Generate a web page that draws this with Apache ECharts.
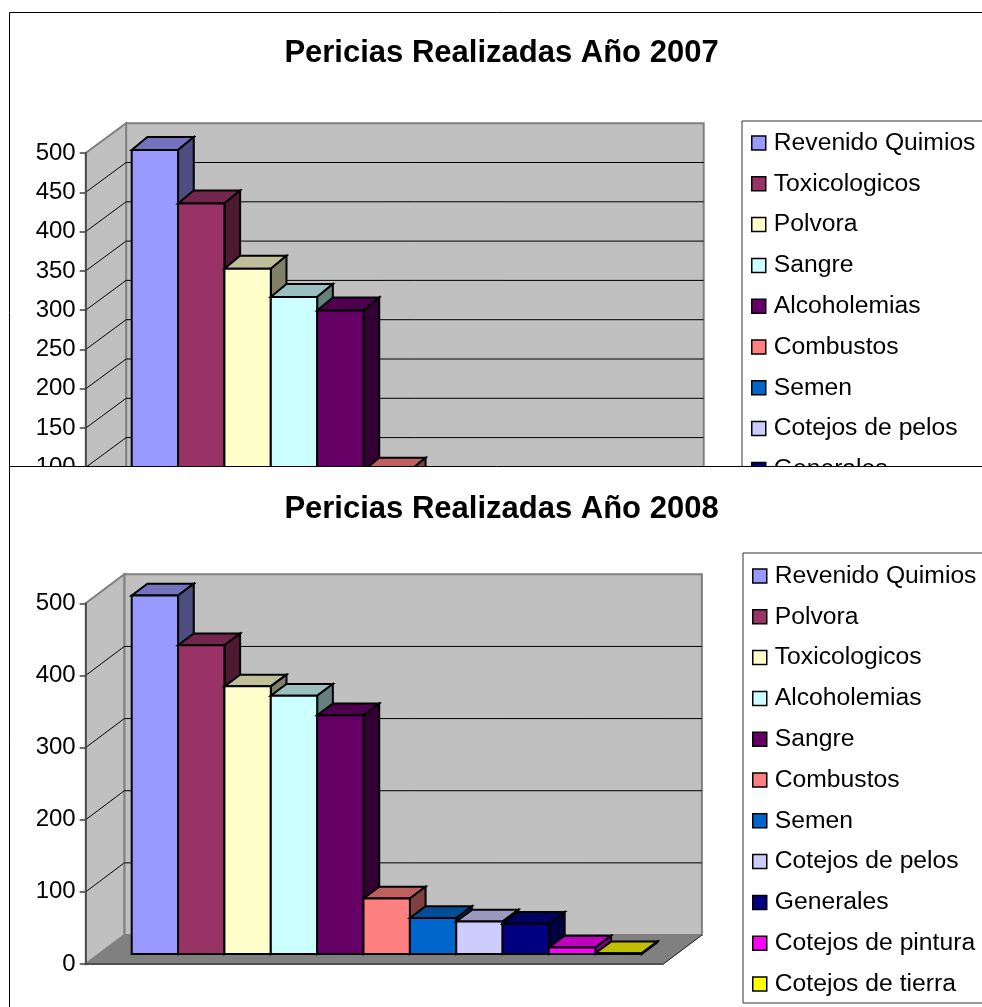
<!DOCTYPE html>
<html><head><meta charset="utf-8">
<style>html,body{margin:0;padding:0;background:#fff;overflow:hidden}#c{width:982px;height:1007px}</style>
<script src="https://cdn.jsdelivr.net/npm/echarts@6/dist/echarts.min.js"></script>
</head><body><div id="c"></div>
<script>
// Data
const categories2007 = ['Revenido Quimios','Toxicologicos','Polvora','Sangre','Alcoholemias','Combustos','Semen','Cotejos de pelos','Generales'];
// The 2008 panel covers the lower part of the 2007 panel: the last three bars cannot be seen.
const values2007 = [491,423,340,304,287,83,null,null,null];
const categories2008 = ['Revenido Quimios','Polvora','Toxicologicos','Alcoholemias','Sangre','Combustos','Semen','Cotejos de pelos','Generales','Cotejos de pintura','Cotejos de tierra'];
const values2008 = [497,428,371,358,331,77,50,45,42,9,1];
const ticks2007 = [0,50,100,150,200,250,300,350,400,450,500];
const ticks2008 = [0,100,200,300,400,500];
const palette = ['#9999FF','#993366','#FFFFCC','#CCFFFF','#660066','#FF8080','#0066CC','#CCCCFF','#000080','#FF00FF','#FFFF00'];
const title2007 = 'Pericias Realizadas Año 2007';
const title2008 = 'Pericias Realizadas Año 2008';

const FONT = '"Liberation Sans", Arial, sans-serif';
function shade(hex, k){
  const n = parseInt(hex.slice(1),16);
  const c = s => Math.round(((n>>s)&255)*k);
  return 'rgb('+c(16)+','+c(8)+','+c(0)+')';
}
const poly = (points, fill, stroke, w) => ({type:'polygon', shape:{points}, style:{fill, stroke, lineWidth:w, lineJoin:'miter'}});
const line = (a, b, stroke, w) => ({type:'line', shape:{x1:a[0],y1:a[1],x2:b[0],y2:b[1]}, style:{stroke, lineWidth:w}});

function wallsSeries(axisIdx, dx, dy, top, ticks, z){
  return {
    type:'custom', name:'walls', xAxisIndex:axisIdx, yAxisIndex:axisIdx, z, silent:true, clip:false,
    data: ticks.map(t=>[0,t]),
    encode:{x:0,y:1},
    renderItem(params, api){
      const t = api.value(1);
      const L = api.coord([0,t]), R = api.coord([1,t]);
      const back = p => [p[0]+dx, p[1]-dy];
      if (params.dataIndex === 0){
        const L0 = L, R0 = R, Lt = api.coord([0,top]), Rt = api.coord([1,top]);
        return {type:'group', children:[
          poly([back(L0),back(R0),back(Rt),back(Lt)], '#C0C0C0', '#808080', 2),
          poly([L0,back(L0),back(Lt),Lt], '#C0C0C0', '#808080', 2),
          poly([L0,R0,back(R0),back(L0)], '#808080', '#808080', 1),
          line(L0,R0,'#505050',2),
          line(R0,back(R0),'#202020',1)
        ]};
      }
      if (t === top) return;
      return {type:'group', children:[ line(L,back(L),'#000',1), line(back(L),back(R),'#000',1) ]};
    }
  };
}
function barSeries(name, i, value, color, axisIdx, dx, dy, z){
  return {
    type:'custom', name, xAxisIndex:axisIdx, yAxisIndex:axisIdx, z, silent:true, clip:false,
    itemStyle:{color},
    data: value===null ? [] : [[i,value]],
    encode:{x:0,y:1},
    renderItem(params, api){
      const c = api.coord([api.value(0),api.value(1)]);
      const b = api.coord([api.value(0),0]);
      const w = api.size([1,0])[0];
      const x0 = c[0]-w/2, x1 = c[0]+w/2, yt = c[1], yb = b[1];
      return {type:'group', children:[
        poly([[x0,yt],[x1,yt],[x1+dx,yt-dy],[x0+dx,yt-dy]], shade(color,.75), '#000', 2),
        poly([[x1,yt],[x1,yb],[x1+dx,yb-dy],[x1+dx,yt-dy]], shade(color,.5), '#000', 2),
        poly([[x0,yt],[x1,yt],[x1,yb],[x0,yb]], color, '#000', 2)
      ]};
    }
  };
}
function legendOpt(names, left, top, z, padTop, padBottom){
  return {
    show:true, orient:'vertical', left, top, height:480, z, selectedMode:false,
    icon:'rect', itemWidth:14, itemHeight:14, itemGap:10.8,
    padding:[padTop,30,padBottom,9], borderColor:'#333', borderWidth:1, backgroundColor:'#fff',
    textStyle:{fontFamily:FONT, fontSize:24.7, color:'#000', lineHeight:24, padding:[0,0,6,3]},
    data:names.map((n,i)=>({name:n, icon:'rect', itemStyle:{color:palette[i], borderColor:'#000', borderWidth:1.5}}))
  };
}
function yAxisOpt(gridIndex, interval, z){
  return {type:'value', gridIndex, min:0, max:500, interval, z, position:'left',
    axisLine:{show:true, onZero:false, lineStyle:{color:'#404040', width:1.5}},
    axisTick:{show:true, length:6, lineStyle:{color:'#404040', width:1.5}},
    axisLabel:{show:true, fontFamily:FONT, fontSize:24, color:'#000', margin:10},
    splitLine:{show:false}};
}
const hiddenY = gridIndex => ({type:'value', gridIndex, min:0, max:500, show:false, splitLine:{show:false}});
const planeX = gridIndex => ({type:'value', gridIndex, min:0, max:1, show:false, splitLine:{show:false}});
const bandX = (gridIndex, n) => ({type:'category', gridIndex, show:false, data:categories2008.slice(0,n)});

const option = {
  animation:false,
  backgroundColor:'#fff',
  title:[
    {text:title2007, left:501.5, top:38, textAlign:'center', z:10, padding:0, textStyle:{fontFamily:FONT, fontSize:31, fontWeight:'bold', color:'#000'}},
    {text:title2008, left:501.5, top:494, textAlign:'center', z:10, padding:0, textStyle:{fontFamily:FONT, fontSize:31, fontWeight:'bold', color:'#000'}}
  ],
  grid:[
    {left:85.7, top:153, width:577.6, height:393},
    {left:131.7, top:143, width:510, height:393},
    {left:85.7, top:603.3, width:577.6, height:360.7},
    {left:131.7, top:593.3, width:510, height:360.7}
  ],
  xAxis:[planeX(0), bandX(1,11), planeX(2), bandX(3,11)],
  yAxis:[yAxisOpt(0,50,3), hiddenY(1), yAxisOpt(2,100,10), hiddenY(3)],
  legend:[legendOpt(categories2007,742,121,4,7,4), legendOpt(categories2008,743,553,8,8,4)],
  graphic:[
    {type:'rect', z:0, silent:true, shape:{x:9.5,y:12.5,width:1200,height:600}, style:{fill:'none',stroke:'#000',lineWidth:1}},
    {type:'rect', z:5, silent:true, shape:{x:9.5,y:466.5,width:1200,height:800}, style:{fill:'#fff',stroke:'#000',lineWidth:1}}
  ],
  series:[
    wallsSeries(0,40.4,29.8,500,ticks2007,1),
    ...categories2007.map((n,i)=>barSeries(n,i,values2007[i],palette[i],1,15.7,13,2)),
    wallsSeries(2,38.6,29,500,ticks2008,6),
    ...categories2008.map((n,i)=>barSeries(n,i,values2008[i],palette[i],3,15.7,11.7,7))
  ]
};
const chart = echarts.init(document.getElementById('c'), null, {renderer:'canvas', width:982, height:1007});
chart.setOption(option);
</script></body></html>
